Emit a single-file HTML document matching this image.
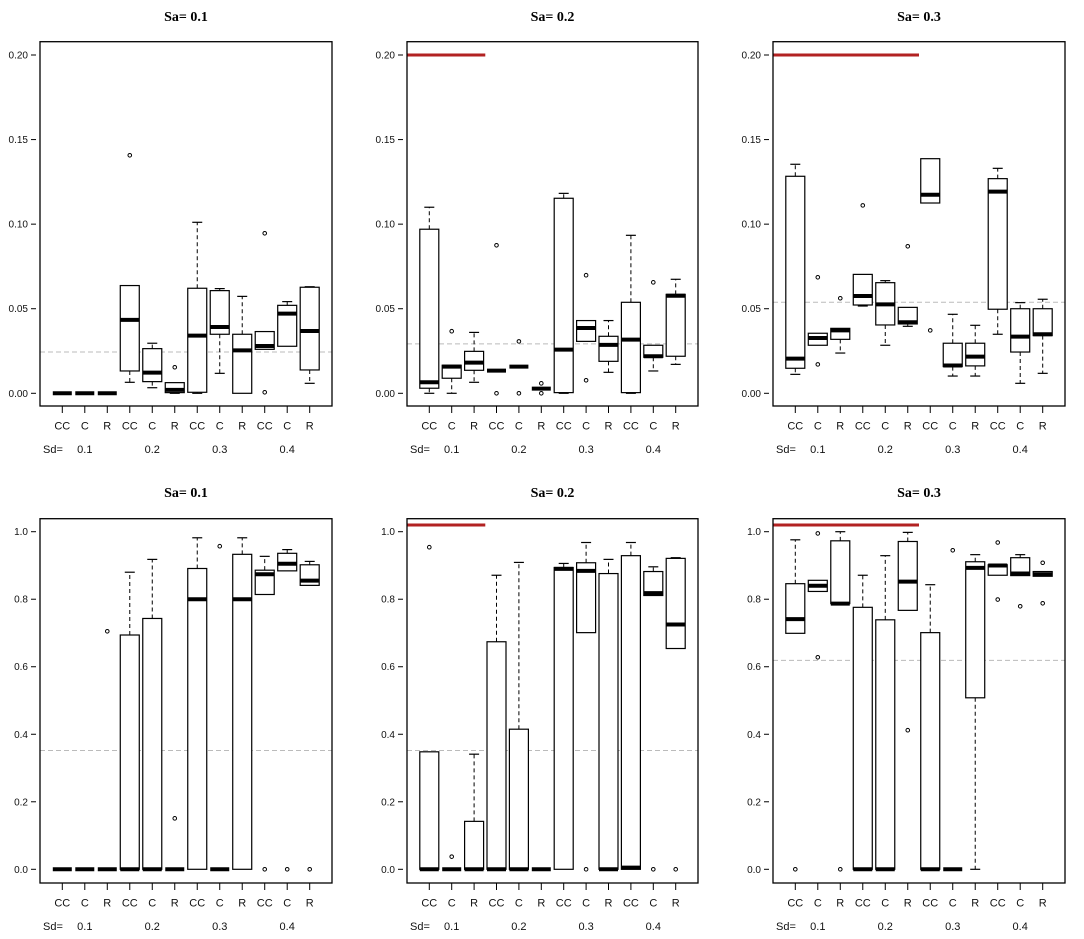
<!DOCTYPE html>
<html><head><meta charset="utf-8"><style>
html,body{margin:0;padding:0;background:#fff;width:1084px;height:939px;overflow:hidden}
svg{display:block}
.tk{font-family:"Liberation Sans",sans-serif;font-size:10px;fill:#111}
.cat{font-family:"Liberation Sans",sans-serif;font-size:11px;fill:#111}
.ttl{font-family:"Liberation Serif",serif;font-size:14px;font-weight:bold;fill:#000}
</style></head><body>
<svg id="chart" width="1084" height="939" viewBox="0 0 1084 939" xmlns="http://www.w3.org/2000/svg"></svg>
<script>
// Data: each box = [lowWhisker, q1, median, q3, highWhisker]
const categories = ["CC","C","R","CC","C","R","CC","C","R","CC","C","R"];
const sdGroups = ["0.1","0.2","0.3","0.4"];
const titles = ["Sa= 0.1","Sa= 0.2","Sa= 0.3","Sa= 0.1","Sa= 0.2","Sa= 0.3"];
const topTicks = [0,0.05,0.10,0.15,0.20];
const topTickLabels = ["0.00","0.05","0.10","0.15","0.20"];
const botTicks = [0,0.2,0.4,0.6,0.8,1.0];
const botTickLabels = ["0.0","0.2","0.4","0.6","0.8","1.0"];

const p1Boxes = [[0,0,0,0,0],[0,0,0,0,0],[0,0,0,0,0],[0.0065,0.0132,0.0434,0.0637,0.0637],[0.0033,0.0069,0.0122,0.0264,0.0296],[0,0.0004,0.002,0.0063,0.0063],[0,0.0006,0.0341,0.0621,0.1011],[0.0118,0.0349,0.0392,0.0607,0.0619],[0,0,0.0254,0.0349,0.0573],[0.026,0.026,0.028,0.0365,0.0365],[0.0278,0.0278,0.0471,0.052,0.0542],[0.0059,0.0138,0.0368,0.0627,0.063]];
const p1Out = [[],[],[],[0.1407],[],[0.0154],[],[],[],[0.0946,0.0006],[],[]];
const p2Boxes = [[0,0.003,0.0065,0.097,0.11],[0,0.0089,0.0158,0.0166,0.0166],[0.0065,0.0136,0.0181,0.0248,0.036],[0.0134,0.0134,0.0134,0.0134,0.0134],[0.0158,0.0158,0.0158,0.0158,0.0158],[0.0028,0.0028,0.0028,0.0028,0.0028],[0,0.0004,0.0258,0.1153,0.1182],[0.0307,0.0307,0.0386,0.043,0.043],[0.0124,0.0189,0.0286,0.0337,0.043],[0,0.0004,0.0317,0.0538,0.0934],[0.0132,0.0213,0.0219,0.0284,0.0284],[0.0171,0.0219,0.0577,0.0585,0.0674]];
const p2Out = [[],[0.0367],[],[0.0875,0],[0.0307,0],[0.0059,0],[],[0.0698,0.0077],[],[],[0.0656],[]];
const p3Boxes = [[0.0112,0.0148,0.0205,0.1283,0.1354],[0.0284,0.0284,0.0327,0.0355,0.0355],[0.0238,0.0319,0.0372,0.0384,0.0384],[0.0516,0.0522,0.0575,0.0703,0.0703],[0.0284,0.0404,0.0526,0.0654,0.0666],[0.0396,0.041,0.042,0.0508,0.0508],[0.1125,0.1125,0.1174,0.1387,0.1387],[0.0102,0.0158,0.0164,0.0296,0.0467],[0.0102,0.0162,0.0217,0.0296,0.0402],[0.0349,0.0497,0.1192,0.1269,0.133],[0.0059,0.0244,0.0335,0.05,0.0536],[0.0118,0.0341,0.0349,0.05,0.0556]];
const p3Out = [[],[0.0686,0.0171],[0.0562],[0.1111],[],[0.0869],[0.0372],[],[],[],[],[]];
const p4Boxes = [[0,0,0,0,0],[0,0,0,0,0],[0,0,0,0,0],[0,0,0,0.694,0.88],[0,0,0,0.743,0.918],[0,0,0,0,0],[0,0,0.80,0.891,0.982],[0,0,0,0,0],[0,0,0.80,0.933,0.982],[0.814,0.814,0.874,0.886,0.927],[0.884,0.884,0.905,0.936,0.947],[0.841,0.841,0.855,0.902,0.912]];
const p4Out = [[],[],[0.705],[],[],[0.151],[],[0.957],[],[0],[0],[0]];
const p5Boxes = [[0,0,0,0.348,0.348],[0,0,0,0,0],[0,0,0,0.142,0.341],[0,0,0,0.674,0.871],[0,0,0,0.415,0.909],[0,0,0,0,0],[0,0,0.890,0.894,0.906],[0.701,0.701,0.884,0.908,0.968],[0,0,0,0.876,0.918],[0,0,0.005,0.929,0.968],[0.811,0.811,0.818,0.882,0.896],[0.654,0.654,0.725,0.921,0.923]];
const p5Out = [[0.954],[0.0375],[],[],[],[],[],[0],[],[],[0],[0]];
const p6Boxes = [[0.699,0.699,0.741,0.846,0.976],[0.823,0.823,0.840,0.856,0.856],[0.787,0.787,0.787,0.973,1.0],[0,0,0,0.776,0.871],[0,0,0,0.739,0.929],[0.767,0.767,0.852,0.971,0.998],[0,0,0,0.701,0.843],[0,0,0,0,0],[0,0.508,0.893,0.911,0.932],[0.871,0.871,0.900,0.902,0.902],[0.870,0.870,0.876,0.923,0.932],[0.868,0.868,0.874,0.882,0.882]];
const p6Out = [[0],[0.995,0.628],[0],[],[],[0.412],[],[0.945],[],[0.968,0.799],[0.779],[0.908,0.788]];
const refLines = [0.0244,0.0292,0.0538,0.352,0.352,0.619];
const redLevels = [null,0.20,0.20,null,1.02,1.02];
const redEnds = [null,2.5,5.5,null,2.5,5.5];

const panels = [
 {x0:40,x1:332,y0:41.7,y1:406,v0:0,py0:393.3,v1:0.2,py1:55,ticks:topTicks,labs:topTickLabels,boxes:p1Boxes,out:p1Out,ty:17},
 {x0:407,x1:698,y0:41.7,y1:406,v0:0,py0:393.3,v1:0.2,py1:55,ticks:topTicks,labs:topTickLabels,boxes:p2Boxes,out:p2Out,ty:17},
 {x0:773,x1:1065,y0:41.7,y1:406,v0:0,py0:393.3,v1:0.2,py1:55,ticks:topTicks,labs:topTickLabels,boxes:p3Boxes,out:p3Out,ty:17},
 {x0:40,x1:332,y0:518.7,y1:883,v0:0,py0:869.3,v1:1,py1:531.7,ticks:botTicks,labs:botTickLabels,boxes:p4Boxes,out:p4Out,ty:493},
 {x0:407,x1:698,y0:518.7,y1:883,v0:0,py0:869.3,v1:1,py1:531.7,ticks:botTicks,labs:botTickLabels,boxes:p5Boxes,out:p5Out,ty:493},
 {x0:773,x1:1065,y0:518.7,y1:883,v0:0,py0:869.3,v1:1,py1:531.7,ticks:botTicks,labs:botTickLabels,boxes:p6Boxes,out:p6Out,ty:493}
];
const svg = document.getElementById('chart');
const NS = "http://www.w3.org/2000/svg";
function mk(tag, attrs, parent){const e=document.createElementNS(NS,tag);for(const k in attrs)e.setAttribute(k,attrs[k]);(parent||svg).appendChild(e);return e;}

panels.forEach((p,pi)=>{
  const g = mk('g',{});
  
  
  const y = v => p.py0 + (v-p.v0)*(p.py1-p.py0)/(p.v1-p.v0);
  const step = (p.x1-p.x0-44.6)/11;
  const x = i => p.x0+22.3+i*step;
  const cx = (p.x0+p.x1)/2;
  const t = mk('text',{x:cx,y:p.ty+4,'text-anchor':'middle',class:'ttl'},g); t.textContent=titles[pi];
  
  
  p.ticks.forEach((tv,ti)=>{
    mk('line',{x1:p.x0-9,x2:p.x0-4,y1:y(tv),y2:y(tv),stroke:'#000','stroke-width':1},g);
    const l=mk('text',{x:p.x0-12,y:y(tv)+3.5,'text-anchor':'end',class:'tk'},g); l.textContent=p.labs[ti];
    
    
  });
  const rl=mk('line',{x1:p.x0,x2:p.x1,y1:y(refLines[pi]),y2:y(refLines[pi]),stroke:'#bbb','stroke-width':1,'stroke-dasharray':'5,3'},g);
  
  
  if(redLevels[pi]!==null){
    const r=mk('line',{x1:p.x0,x2:x(redEnds[pi]),y1:y(redLevels[pi]),y2:y(redLevels[pi]),stroke:'#b22222','stroke-width':3},g);
    
    
  }
  p.boxes.forEach((b,i)=>{
    const bx=x(i), hw=9.5, cw=5;
    const bg=mk('g',{},g);
    
    
    if(b[4]>b[3]){
      mk('line',{x1:bx,x2:bx,y1:y(b[3]),y2:y(b[4]),stroke:'#000','stroke-dasharray':'4,3'},bg);
      mk('line',{x1:bx-cw,x2:bx+cw,y1:y(b[4]),y2:y(b[4]),stroke:'#000','stroke-width':1.2},bg);
    }
    if(b[0]<b[1]){
      mk('line',{x1:bx,x2:bx,y1:y(b[1]),y2:y(b[0]),stroke:'#000','stroke-dasharray':'4,3'},bg);
      mk('line',{x1:bx-cw,x2:bx+cw,y1:y(b[0]),y2:y(b[0]),stroke:'#000','stroke-width':1.2},bg);
    }
    if(b[3]>b[1]) mk('rect',{x:bx-hw,y:y(b[3]),width:2*hw,height:y(b[1])-y(b[3]),fill:'#fff',stroke:'#000','stroke-width':1.2},bg);
    mk('line',{x1:bx-hw,x2:bx+hw,y1:y(b[2]),y2:y(b[2]),stroke:'#000','stroke-width':4},bg);
    p.out[i].forEach(o=>{
      const c=mk('circle',{cx:bx,cy:y(o),r:1.8,fill:'none',stroke:'#000','stroke-width':1},bg);
      
      
    });
    mk('line',{x1:bx,x2:bx,y1:p.y1,y2:p.y1+7,stroke:'#000'},g);
    const cl=mk('text',{x:bx,y:p.y1+23.5,'text-anchor':'middle',class:'cat'},g); cl.textContent=categories[i];
    
    
  });
  const sl=mk('text',{x:p.x0+3,y:p.y1+47,class:'cat'},g); sl.textContent='Sd=';
  
  
  sdGroups.forEach((s,si)=>{
    const gl=mk('text',{x:x(si*3+1),y:p.y1+47,'text-anchor':'middle',class:'cat'},g); gl.textContent=s;
    
    
  });
  const fr=mk('rect',{x:p.x0,y:p.y0,width:p.x1-p.x0,height:p.y1-p.y0,fill:'none',stroke:'#000','stroke-width':1.3},g);
  
  
});
</script>
</body></html>
